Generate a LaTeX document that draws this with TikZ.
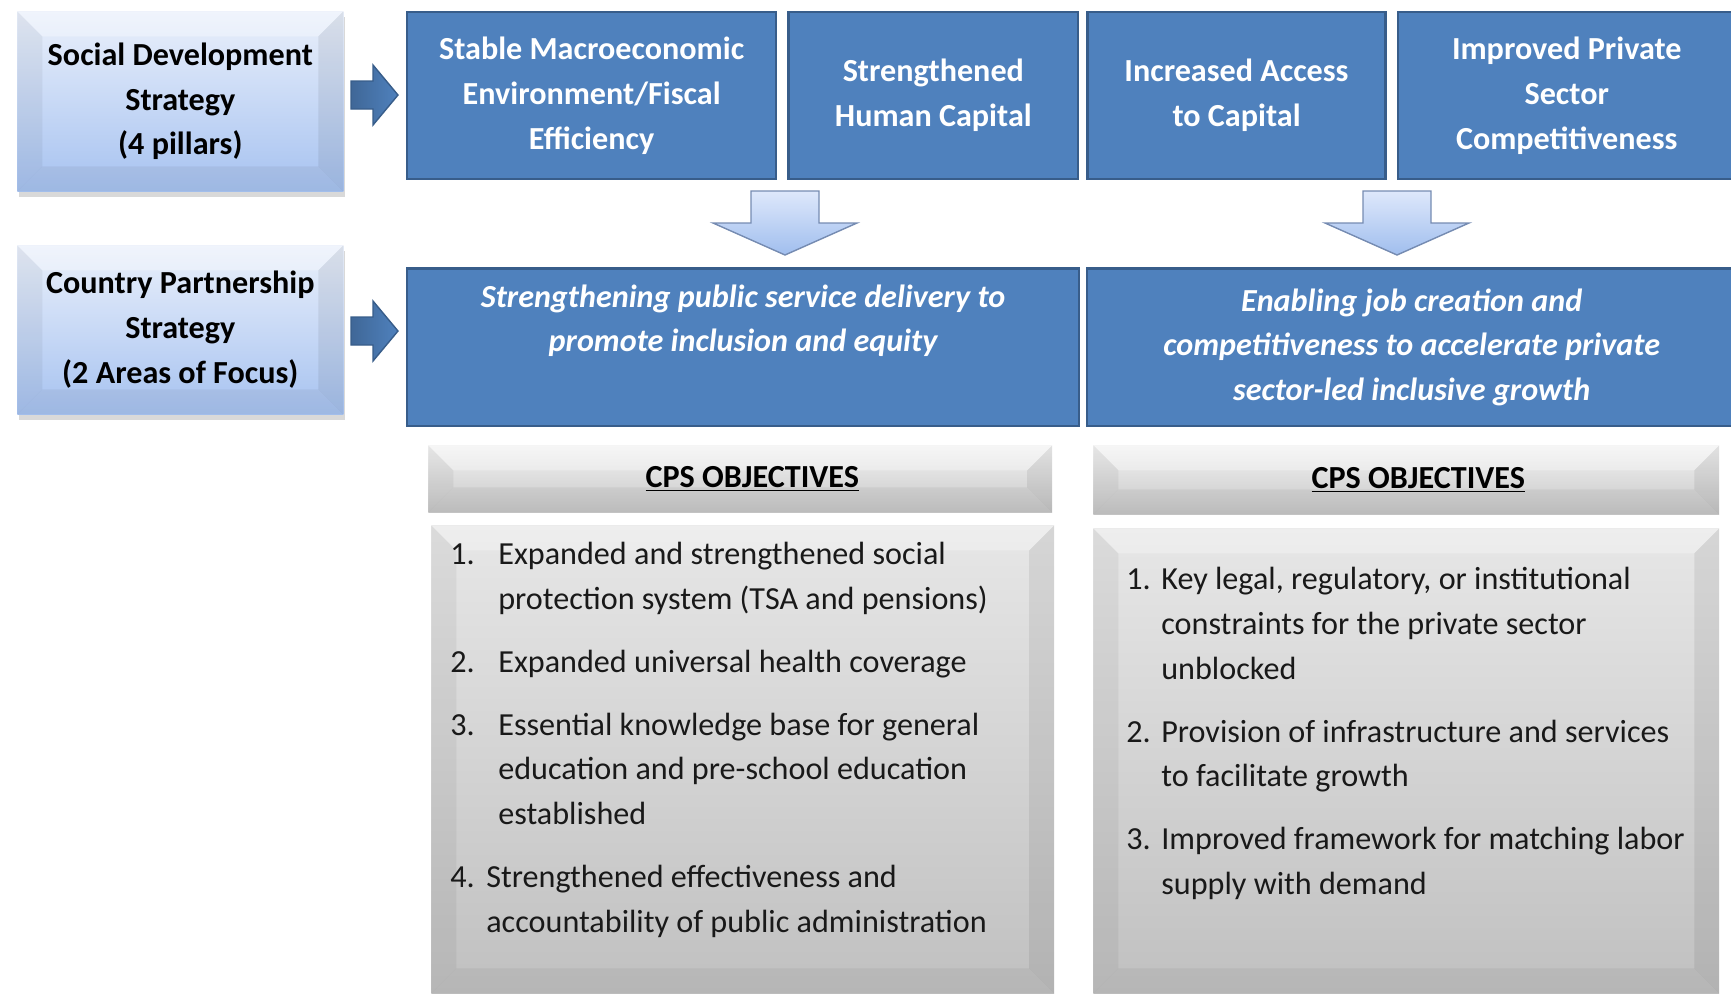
\documentclass[tikz,border=0pt]{standalone}
\usepackage{fontspec}
\setmainfont{Carlito}
\usepackage{tikz}
\usetikzlibrary{shapes,arrows,positioning,calc,shadows}
\definecolor{pillarblue}{RGB}{79,129,189}
\definecolor{pillaredge}{RGB}{56,93,138}
\definecolor{stratlight}{RGB}{234,240,251}
\definecolor{stratdark}{RGB}{166,194,240}
\definecolor{arrowlight}{RGB}{222,232,251}
\definecolor{arrowdark}{RGB}{160,190,238}
\definecolor{arrowedge}{RGB}{118,140,178}
\definecolor{objlight}{RGB}{243,243,243}
\definecolor{objdark}{RGB}{192,192,192}

\newcommand{\diagfont}{\fontsize{18.3}{25.5}\selectfont}
\newcommand{\objline}[3][0.96cm]{\makebox[#1][l]{#2}#3}

\tikzset{
  bevel/.style={path picture={
    \coordinate (bnw) at (path picture bounding box.north west);
    \coordinate (bne) at (path picture bounding box.north east);
    \coordinate (bsw) at (path picture bounding box.south west);
    \coordinate (bse) at (path picture bounding box.south east);
    \fill[white,opacity=.3] (bnw) -- (bne) -- ([xshift=-#1,yshift=-#1]bne) -- ([xshift=#1,yshift=-#1]bnw) -- cycle;
    \fill[black,opacity=.05] (bnw) -- ([xshift=#1,yshift=-#1]bnw) -- ([xshift=#1,yshift=#1]bsw) -- (bsw) -- cycle;
    \fill[black,opacity=.07] (bne) -- ([xshift=-#1,yshift=-#1]bne) -- ([xshift=-#1,yshift=#1]bse) -- (bse) -- cycle;
    \fill[black,opacity=.05] (bsw) -- ([xshift=#1,yshift=#1]bsw) -- ([xshift=-#1,yshift=#1]bse) -- (bse) -- cycle;
  }}
}

\begin{document}
\begin{tikzpicture}[x=0.02cm, y=-0.02cm,
  strategy/.style={shade, top color=stratlight, bottom color=stratdark, anchor=north west, minimum width=6.52cm, inner sep=0pt, align=center, font=\diagfont\bfseries, bevel=0.5cm, drop shadow={shadow xshift=1pt, shadow yshift=-3pt, opacity=.3}},
  pillar/.style={draw=pillaredge, line width=1.3pt, fill=pillarblue, minimum height=3.34cm, inner sep=0pt, align=center, font=\diagfont\bfseries, text=white},
  focus/.style={pillar, minimum height=3.16cm, font=\diagfont\bfseries\itshape},
  cpshead/.style={shade, top color=objlight, bottom color=objdark!90, anchor=north west, inner sep=0pt, font=\diagfont\bfseries, bevel=0.5cm},
  cpsbody/.style={shade, top color=objlight!95!black, bottom color=objdark, anchor=north west, inner sep=0pt, bevel=0.5cm},
  objlist/.style={anchor=north west, align=left, inner sep=0pt, font=\diagfont, text=black!90},
  downarrow/.style={draw=arrowedge, line width=0.8pt, top color=arrowlight, bottom color=arrowdark, line join=miter},
  rightarrow/.style={draw=pillaredge, line width=0.8pt, left color=pillarblue!80!black, right color=pillarblue, line join=miter}]

  \useasboundingbox (0,0) rectangle (1731,995);

  % strategies on the left
  \node [strategy, minimum height=3.6cm] (sds) at (17,11) {Social Development\\Strategy\\(4 pillars)};
  \node [strategy, minimum height=3.38cm] (cps) at (17,245) {Country Partnership\\Strategy\\(2 Areas of Focus)};

  % the four pillars
  \node [pillar, anchor=north west, minimum width=7.38cm] (macro) at (406,11) {Stable Macroeconomic\\Environment/Fiscal\\Efficiency};
  \node [pillar, minimum width=5.8cm, right=0.2cm of macro] (human) {Strengthened\\Human Capital};
  \node [pillar, minimum width=5.96cm, right=0.14cm of human] (access) {Increased Access\\to Capital};
  \node [pillar, minimum width=6.76cm, right=0.2cm of access] (private) {Improved Private\\Sector\\Competitiveness};

  % areas of focus
  \node [focus, minimum width=13.44cm, below=1.74cm of macro.south west, anchor=north west] (service) {Strengthening public service delivery to\\promote inclusion and equity\\\strut};
  \node [focus, minimum width=12.98cm, right=0.12cm of service] (jobs) {Enabling job creation and\\competitiveness to accelerate private\\sector-led inclusive growth};

  % block arrows
  \coordinate (sdsarrow) at (351,95);
  \coordinate (cpsarrow) at (351,331);
  \coordinate (leftdown) at (785,191);
  \coordinate (rightdown) at (1397,191);
  \foreach \a in {sdsarrow,cpsarrow}
    \path [rightarrow] (\a) ++(0,-14) -- ++(22,0) -- ++(0,-16) -- ++(25,30) -- ++(-25,30) -- ++(0,-16) -- ++(-22,0) -- cycle;
  \foreach \a in {leftdown,rightdown}
    \path [downarrow] (\a) ++(-34,0) -- ++(68,0) -- ++(0,32) -- ++(38,0) -- ++(-72,32) -- ++(-72,-32) -- ++(38,0) -- cycle;

  % objectives
  \node [cpshead, minimum width=12.48cm, minimum height=1.34cm] (headleft) at (428,445) {\hspace*{0.48cm}\underline{CPS OBJECTIVES}};
  \node [cpsbody, minimum width=12.46cm, minimum height=9.36cm] (bodyleft) at (431,525) {};
  \node [cpshead, minimum width=12.52cm, minimum height=1.38cm] (headright) at (1093,445) {\hspace*{0.48cm}\underline{CPS OBJECTIVES}};
  \node [cpsbody, minimum width=12.52cm, minimum height=9.3cm] (bodyright) at (1093,528) {};

  \node [objlist] (listleft) at (450,542) {\objline{1.}{Expanded and strengthened social}\\
    \objline{}{protection system (TSA and pensions)}\\[0.36cm]
    \objline{2.}{Expanded universal health coverage}\\[0.36cm]
    \objline{3.}{Essential knowledge base for general}\\
    \objline{}{education and pre-school education}\\
    \objline{}{established}\\[0.36cm]
    \objline[0.72cm]{4.}{Strengthened effectiveness and}\\
    \objline[0.72cm]{}{accountability of public administration}};
  \node [objlist] (listright) at (1126,567) {\objline[0.7cm]{1.}{Key legal, regulatory, or institutional}\\
    \objline[0.7cm]{}{constraints for the private sector}\\
    \objline[0.7cm]{}{unblocked}\\[0.36cm]
    \objline[0.7cm]{2.}{Provision of infrastructure and services}\\
    \objline[0.7cm]{}{to facilitate growth}\\[0.36cm]
    \objline[0.7cm]{3.}{Improved framework for matching labor}\\
    \objline[0.7cm]{}{supply with demand}};
\end{tikzpicture}
\end{document}
